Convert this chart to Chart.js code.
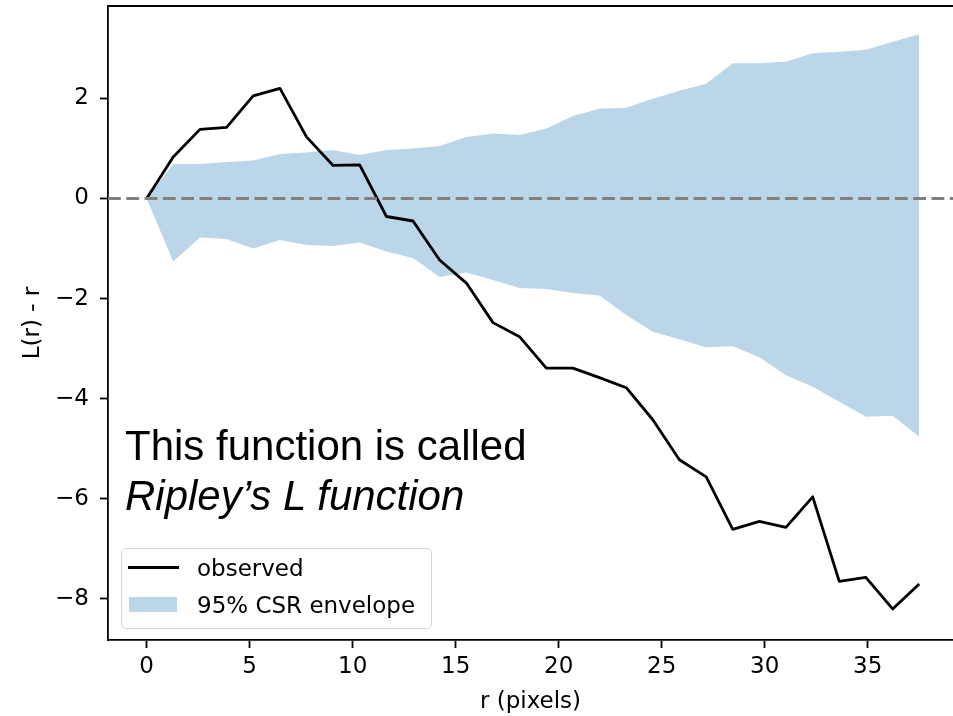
<!DOCTYPE html>
<html>
<head>
<meta charset="utf-8">
<script src="https://cdn.jsdelivr.net/npm/chart.js@4.4.1/dist/chart.umd.min.js"></script>
<style>
  html, body { margin: 0; padding: 0; background: #fff; overflow: hidden; }
  #wrap { position: relative; width: 953px; height: 716px; }
  #note {
    position: absolute; left: 125px; top: 421px;
    font-family: "Liberation Sans", Arial, sans-serif; font-size: 42px; line-height: 50px;
    color: #000; white-space: nowrap;
  }
  #note i { font-style: italic; }
  #legend {
    position: absolute; left: 121px; top: 548px; width: 309px; height: 79px;
    border: 1px solid #d6d6d6; border-radius: 5px; background: rgba(255,255,255,0.8);
    font-family: "DejaVu Sans", sans-serif; font-size: 23px; color: #000;
  }
  .item { position: absolute; left: 0; height: 23px; line-height: 23px; white-space: nowrap; }
  .item .txt { position: absolute; left: 75px; top: 0; }
  .item .swatch { position: absolute; left: 6px; }
</style>
</head>
<body>
<div id="wrap">
  <canvas id="chart" width="953" height="716"></canvas>
  <div id="note">This function is called<br><i>Ripley’s L function</i></div>
  <div id="legend"></div>
</div>
<script>
// r values (pixels)
const r = [0, 1.29, 2.59, 3.88, 5.17, 6.47, 7.76, 9.05, 10.34, 11.64, 12.93, 14.22, 15.52, 16.81, 18.10,
  19.40, 20.69, 21.98, 23.28, 24.57, 25.86, 27.16, 28.45, 29.74, 31.03, 32.33, 33.62, 34.91, 36.21, 37.50];

const observed = [0, 0.83, 1.38, 1.42, 2.05, 2.20, 1.23, 0.66, 0.67, -0.36, -0.45, -1.23, -1.69, -2.48, -2.76,
  -3.39, -3.39, -3.58, -3.78, -4.42, -5.22, -5.56, -6.61, -6.45, -6.57, -5.96, -7.65, -7.57, -8.20, -7.70];

const envUpper = [0, 0.69, 0.69, 0.73, 0.76, 0.89, 0.92, 0.97, 0.87, 0.97, 1.00, 1.05, 1.23, 1.30, 1.27,
  1.40, 1.65, 1.79, 1.81, 1.99, 2.15, 2.29, 2.70, 2.70, 2.73, 2.90, 2.93, 2.97, 3.13, 3.28];

const envLower = [0, -1.26, -0.78, -0.81, -1.00, -0.83, -0.93, -0.95, -0.88, -1.06, -1.19, -1.57, -1.48, -1.63, -1.79,
  -1.81, -1.89, -1.94, -2.33, -2.66, -2.81, -2.97, -2.95, -3.17, -3.53, -3.76, -4.06, -4.36, -4.34, -4.76];

const xTicks = [0, 5, 10, 15, 20, 25, 30, 35];
const yTicks = [-8, -6, -4, -2, 0, 2];

const toPoints = (ys) => ys.map((y, i) => ({ x: r[i], y: y }));
const fmt = (v) => (v < 0 ? "\u2212" + Math.abs(v) : String(v));
const tickFont = { family: "DejaVu Sans", size: 23 };

// dashed zero line and top spine
const extras = {
  id: "extras",
  afterDatasetsDraw(chart) {
    const { ctx, chartArea } = chart;
    const y0 = chart.scales.y.getPixelForValue(0);
    ctx.save();
    ctx.strokeStyle = "#808080";
    ctx.lineWidth = 2.8;
    ctx.setLineDash([12.8, 5.5]);
    ctx.beginPath();
    ctx.moveTo(chartArea.left, y0);
    ctx.lineTo(chartArea.right, y0);
    ctx.stroke();
    ctx.setLineDash([]);
    ctx.strokeStyle = "#000";
    ctx.lineWidth = 1.8;
    ctx.beginPath();
    ctx.moveTo(chartArea.left - 0.9, chartArea.top);
    ctx.lineTo(chartArea.right, chartArea.top);
    ctx.stroke();
    ctx.restore();
  },
};

const chart = new Chart(document.getElementById("chart"), {
  type: "line",
  data: {
    datasets: [
      {
        label: "observed",
        data: toPoints(observed),
        borderColor: "#000",
        borderWidth: 2.8,
        borderJoinStyle: "round",
        pointRadius: 0,
        fill: false,
      },
      {
        label: "95% CSR envelope",
        data: toPoints(envUpper),
        borderWidth: 0,
        borderColor: "rgba(31,119,180,0)",
        backgroundColor: "rgba(31,119,180,0.3)",
        pointRadius: 0,
        fill: "+1",
      },
      {
        label: "lower",
        data: toPoints(envLower),
        borderWidth: 0,
        borderColor: "rgba(31,119,180,0)",
        pointRadius: 0,
        fill: false,
        hideInLegend: true,
      },
    ],
  },
  options: {
    responsive: false,
    animation: false,
    layout: { padding: { top: 6, left: 0, right: 0, bottom: 0 } },
    plugins: { legend: { display: false }, tooltip: { enabled: false } },
    scales: {
      x: {
        type: "linear",
        min: -1.875,
        max: 39.14,
        afterBuildTicks: (s) => { s.ticks = xTicks.map((v) => ({ value: v })); },
        afterFit: (s) => { s.height = 76; s.paddingLeft = 0; s.paddingRight = 0; },
        grid: { drawOnChartArea: false, tickLength: 8, tickWidth: 1.8, tickColor: "#000" },
        border: { color: "#000", width: 1.8 },
        ticks: { color: "#000", font: tickFont, padding: 5, maxRotation: 0, callback: fmt },
        title: { display: true, text: "r (pixels)", color: "#000", font: tickFont, padding: { top: 0, bottom: 0 } },
      },
      y: {
        type: "linear",
        min: -8.82,
        max: 3.845,
        afterBuildTicks: (s) => { s.ticks = yTicks.map((v) => ({ value: v })); },
        afterFit: (s) => { s.width = 108; s.paddingTop = 0; s.paddingBottom = 0; },
        grid: { drawOnChartArea: false, tickLength: 8, tickWidth: 1.8, tickColor: "#000" },
        border: { color: "#000", width: 1.8 },
        ticks: { color: "#000", font: tickFont, padding: 11, callback: fmt },
        title: { display: true, text: "L(r) - r", color: "#000", font: tickFont, padding: { top: 19, bottom: 0 } },
      },
    },
  },
  plugins: [extras],
});

// html legend built from the datasets
const legendEl = document.getElementById("legend");
chart.data.datasets.filter((ds) => !ds.hideInLegend).forEach((ds, i) => {
  const item = document.createElement("div");
  item.className = "item";
  item.style.top = (i === 0 ? 8 : 45) + "px";
  item.style.width = "100%";
  const sw = document.createElement("div");
  sw.className = "swatch";
  if (ds.fill === false) {
    sw.style.width = "51px";
    sw.style.height = "2.8px";
    sw.style.top = "9px";
    sw.style.background = ds.borderColor;
  } else {
    sw.style.left = "7px";
    sw.style.width = "48px";
    sw.style.height = "15px";
    sw.style.top = "3px";
    sw.style.background = ds.backgroundColor;
  }
  const txt = document.createElement("span");
  txt.className = "txt";
  txt.textContent = ds.label;
  item.appendChild(sw);
  item.appendChild(txt);
  legendEl.appendChild(item);
});
</script>
</body>
</html>
